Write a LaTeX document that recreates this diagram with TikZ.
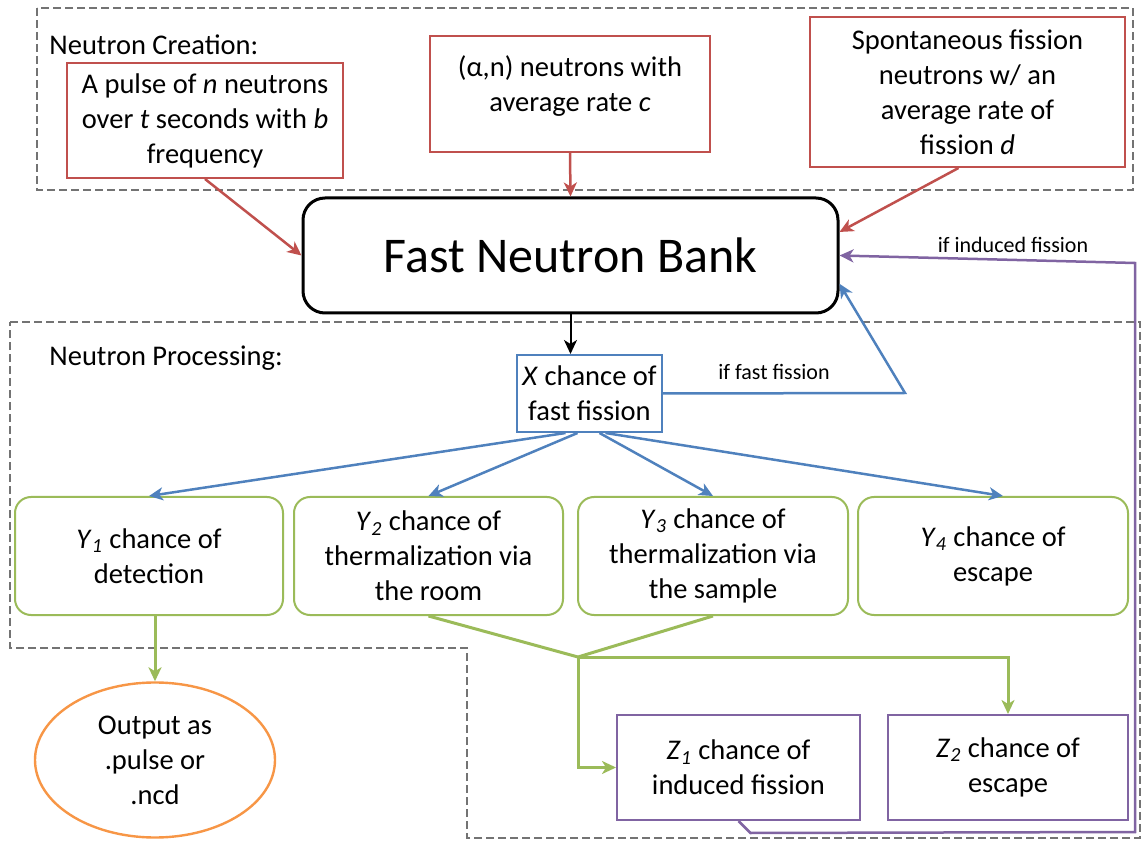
\documentclass[tikz,border=0pt]{standalone}
\usepackage{fontspec}
\setmainfont{Carlito}
\usepackage{xcolor}
\definecolor{nbred}{RGB}{192, 80, 77}
\definecolor{nbblue}{RGB}{79, 129, 189}
\definecolor{nbgreen}{RGB}{155, 187, 89}
\definecolor{nbpurple}{RGB}{128, 100, 162}
\definecolor{nborange}{RGB}{247, 150, 70}
\definecolor{nbgray}{RGB}{115, 115, 115}
\usetikzlibrary{arrows.meta, shapes.geometric, calc}
\newcommand{\chsub}[2]{\textit{#1}\textsubscript{\textit{#2}}}

\begin{document}
\begin{tikzpicture}[>={Stealth[length=7pt, width=6.5pt, inset=2pt]},
    x=0.5pt, y=-0.5pt,
    every node/.style={font=\fontsize{14.25}{17.5}\selectfont, align=center},
    zone/.style={draw=nbgray, line width=1pt, dash pattern=on 4pt off 2pt},
    srcbox/.style={draw=nbred, line width=1pt, fill=white},
    ybox/.style={draw=nbgreen, line width=1pt, fill=white, rounded corners=8pt},
    zbox/.style={draw=nbpurple, line width=1pt, fill=white},
    tag/.style={font=\fontsize{11}{13}\selectfont, inner sep=0pt}]

\useasboundingbox (0,0) rectangle (1142,850);

% === Zonas punteadas ===
\draw[zone] (37,8) rectangle (1133,190);
\draw[zone] (10,322) -- (1140,322) -- (1140,838) -- (467,838)
    -- (467,648) -- (10,648) -- cycle;

\node[anchor=west, inner sep=0pt] (crlabel) at (49,45) {Neutron Creation:};
\node[anchor=west, inner sep=0pt] (prlabel) at (49,358) {Neutron Processing:};

% === Fuentes de neutrones ===
\node[srcbox, minimum width=138pt, minimum height=57.5pt] (pulse) at (205,120.5)
    {A pulse of \textit{n} neutrons\\over \textit{t} seconds with \textit{b}\\frequency};
\node[srcbox, minimum width=140pt, minimum height=58pt, text depth=10pt] (alpha) at (570,94)
    {(α,n) neutrons with\\average rate \textit{c}};
\node[srcbox, minimum width=157.5pt, minimum height=75pt] (spont) at (967.5,92)
    {Spontaneous fission\\neutrons w/ an\\average rate of\\fission \textit{d}};

% === Banco de neutrones rapidos ===
\node[draw=black, line width=1.5pt, fill=white, rounded corners=11pt,
    minimum width=267.5pt, minimum height=57.5pt,
    font=\fontsize{25}{30}\selectfont] (bank) at (570.5,255.5) {Fast Neutron Bank};

\draw[->, nbred, line width=1.25pt] (pulse.south) -- (bank.west);
\draw[->, nbred, line width=1.25pt] (alpha.south) -- (bank.north);
\draw[->, nbred, line width=1.25pt] ([xshift=-4.5pt]spont.south) -- (bank.5);

% === Procesamiento ===
\node[draw=nbblue, line width=1pt, fill=white, minimum width=72.5pt,
    minimum height=38.5pt, inner sep=2pt] (xbox) at (589.5,393.5)
    {\textit{X} chance of\\fast fission};
\draw[->, line width=1pt] (bank.south) -- (bank.south |- xbox.north);

\coordinate (ffturn) at (905,393);
\draw[->, nbblue, line width=1.25pt] (xbox.east) -- (ffturn) -- (bank.-6);
\node[tag] (fflabel) at (774,372) {if fast fission};

\node[ybox, minimum width=134pt, minimum height=59pt] (y1) at (149,556)
    {\chsub{Y}{1} chance of\\detection};
\node[ybox, minimum width=134.5pt, minimum height=59pt] (y2) at (428.5,556)
    {\chsub{Y}{2} chance of\\thermalization via\\the room};
\node[ybox, minimum width=135pt, minimum height=59pt] (y3) at (713,556)
    {\chsub{Y}{3} chance of\\thermalization via\\the sample};
\node[ybox, minimum width=135pt, minimum height=59pt] (y4) at (993,556)
    {\chsub{Y}{4} chance of\\escape};

\draw[->, nbblue, line width=1.25pt] ([xshift=-12pt]xbox.south) -- (y1.north);
\draw[->, nbblue, line width=1.25pt] ([xshift=-6pt]xbox.south) -- (y2.north);
\draw[->, nbblue, line width=1.25pt] ([xshift=5pt]xbox.south) -- (y3.north);
\draw[->, nbblue, line width=1.25pt] ([xshift=8pt]xbox.south) -- ([xshift=5pt]y4.north);

% === Salida ===
\node[ellipse, draw=nborange, line width=1.2pt, fill=white, minimum width=120pt,
    minimum height=77.5pt, inner sep=0pt] (output) at (155,760)
    {Output as\\.pulse or\\.ncd};
\draw[->, nbgreen, line width=1.5pt] (output.north |- y1.south) -- (output.north);

% === Neutrones termalizados ===
\node[zbox, minimum width=121.5pt, minimum height=52.5pt] (zind) at (738.5,767.5)
    {\chsub{Z}{1} chance of\\induced fission};
\node[zbox, minimum width=120pt, minimum height=52.5pt] (zesc) at (1008,767.5)
    {\chsub{Z}{2} chance of\\escape};

\coordinate (merge) at (578,657);
\draw[nbgreen, line width=1.5pt] (y2.south) -- (merge) -- (y3.south);
\draw[->, nbgreen, line width=1.5pt] (merge) -| (zesc.north);
\draw[->, nbgreen, line width=1.5pt] (merge) |- (zind.west);

% Retorno por fision inducida
\coordinate (pbot) at (1135,832);
\coordinate (ptop) at (1135,263);
\draw[->, nbpurple, line width=1.25pt] (zind.south) -- ++(12,12) -- (pbot)
    -- (ptop) -- (bank.east);
\node[tag] (iflabel) at (1013,245) {if induced fission};

\end{tikzpicture}
\end{document}
